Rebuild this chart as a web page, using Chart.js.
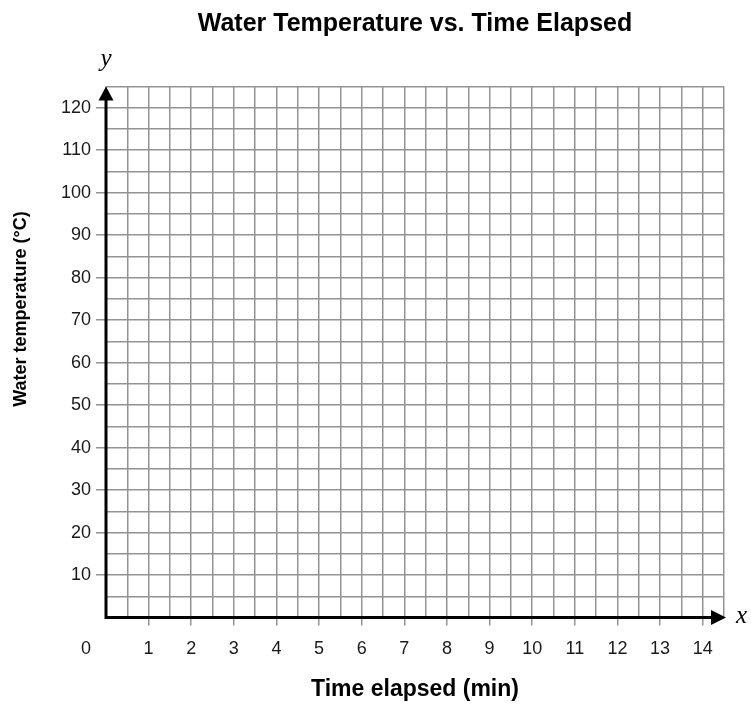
<!DOCTYPE html>
<html><head><meta charset="utf-8">
<script src="https://cdn.jsdelivr.net/npm/chart.js@4.4.1/dist/chart.umd.min.js"></script>
<style>html,body{margin:0;padding:0;background:#fff}</style>
</head><body>
<canvas id="c" width="751" height="706" style="display:block;width:751px;height:706px"></canvas>
<script>
const chartTitle = 'Water Temperature vs. Time Elapsed';
const xAxisTitle = 'Time elapsed (min)';
const yAxisTitle = 'Water temperature (°C)';
const xMin = 0, xMax = 14.5, xGridStep = 0.5;
const yMin = 0, yMax = 125, yGridStep = 5;
const xTickLabels = [1, 2, 3, 4, 5, 6, 7, 8, 9, 10, 11, 12, 13, 14];
const yTickLabels = [10, 20, 30, 40, 50, 60, 70, 80, 90, 100, 110, 120];
const originLabel = '0';
const xAxisLetter = 'x';
const yAxisLetter = 'y';
const dataPoints = []; // blank grid: no plotted data

const FONT = "'Liberation Sans', Arial, Helvetica, sans-serif";
const GRID = '#939393';
const TEXT = '#1a1a1a';
const TICK_SIZE = 18;

const axesPlugin = {
  id: 'axesPlugin',
  afterDraw(chart) {
    const ctx = chart.ctx;
    const xs = chart.scales.x, ys = chart.scales.y;
    const x0 = xs.getPixelForValue(0), y0 = ys.getPixelForValue(0);
    const xEnd = xs.getPixelForValue(xMax) + 2;
    const yEnd = ys.getPixelForValue(yMax);
    const ca = chart.chartArea;
    ctx.save();
    // axis lines
    ctx.strokeStyle = '#000';
    ctx.lineWidth = 3;
    ctx.beginPath();
    ctx.moveTo(x0 - 1.5, y0); ctx.lineTo(xEnd - 10, y0);
    ctx.moveTo(x0, y0 + 1.5); ctx.lineTo(x0, yEnd + 10);
    ctx.stroke();
    // arrowheads
    ctx.fillStyle = '#000';
    ctx.beginPath();
    ctx.moveTo(xEnd, y0); ctx.lineTo(xEnd - 15, y0 - 7.5); ctx.lineTo(xEnd - 15, y0 + 7.5); ctx.closePath();
    ctx.fill();
    ctx.beginPath();
    ctx.moveTo(x0, yEnd); ctx.lineTo(x0 - 7.5, yEnd + 14); ctx.lineTo(x0 + 7.5, yEnd + 14); ctx.closePath();
    ctx.fill();
    // axis letters
    ctx.font = "italic 25px 'Liberation Serif', 'DejaVu Serif', serif";
    ctx.textAlign = 'left';
    ctx.textBaseline = 'alphabetic';
    ctx.fillText(xAxisLetter, xEnd + 10, y0 + 5.5);
    ctx.textAlign = 'center';
    ctx.fillText(yAxisLetter, x0, yEnd - 21);
    // origin label on the x tick-label row
    const items = xs.getLabelItems();
    const ref = items.find(i => i.label === '1');
    ctx.fillStyle = TEXT;
    ctx.font = TICK_SIZE + 'px ' + FONT;
    ctx.textAlign = 'center';
    if (ref) {
      ctx.textBaseline = ref.options.textBaseline;
      ctx.fillText(originLabel, x0 - 20, ref.options.translation[1] + (ref.textOffset || 0));
    }
    // titles
    ctx.fillStyle = '#000';
    ctx.textBaseline = 'middle';
    ctx.font = 'bold 25px ' + FONT;
    ctx.fillText(chartTitle, (ca.left + ca.right) / 2, 24);
    ctx.font = 'bold 23px ' + FONT;
    ctx.fillText(xAxisTitle, (ca.left + ca.right) / 2, 690);
    ctx.font = 'bold 18px ' + FONT;
    ctx.translate(21, (ca.top + ca.bottom) / 2 - 43);
    ctx.rotate(-Math.PI / 2);
    ctx.fillText(yAxisTitle, 0, 0);
    ctx.restore();
  }
};

new Chart(document.getElementById('c'), {
  type: 'scatter',
  data: { datasets: [{ data: dataPoints, pointRadius: 0 }] },
  options: {
    responsive: false,
    animation: false,
    devicePixelRatio: 1,
    layout: { padding: { top: 86.5, right: 27, bottom: 0, left: 0 } },
    plugins: { legend: { display: false }, tooltip: { enabled: false }, title: { display: false } },
    scales: {
      x: {
        type: 'linear', position: 'bottom', min: xMin, max: xMax,
        afterFit: s => { s.height = 88.5; },
        border: { display: false },
        grid: {
          color: GRID, lineWidth: 1.5, tickLength: 8,
          tickColor: c => xTickLabels.includes(c.tick.value) ? GRID : 'rgba(0,0,0,0)'
        },
        ticks: {
          stepSize: xGridStep, autoSkip: false, maxRotation: 0, padding: 13,
          color: TEXT, font: { family: FONT, size: TICK_SIZE },
          callback: v => xTickLabels.includes(v) ? String(v) : ''
        }
      },
      y: {
        type: 'linear', position: 'left', min: yMin, max: yMax,
        afterFit: s => { s.width = 106; },
        border: { display: false },
        grid: {
          color: GRID, lineWidth: 1.5, tickLength: 10,
          tickColor: c => yTickLabels.includes(c.tick.value) ? GRID : 'rgba(0,0,0,0)'
        },
        ticks: {
          stepSize: yGridStep, autoSkip: false, padding: 5,
          color: TEXT, font: { family: FONT, size: TICK_SIZE },
          callback: v => yTickLabels.includes(v) ? String(v) : ''
        }
      }
    }
  },
  plugins: [axesPlugin]
});
</script>
</body></html>
